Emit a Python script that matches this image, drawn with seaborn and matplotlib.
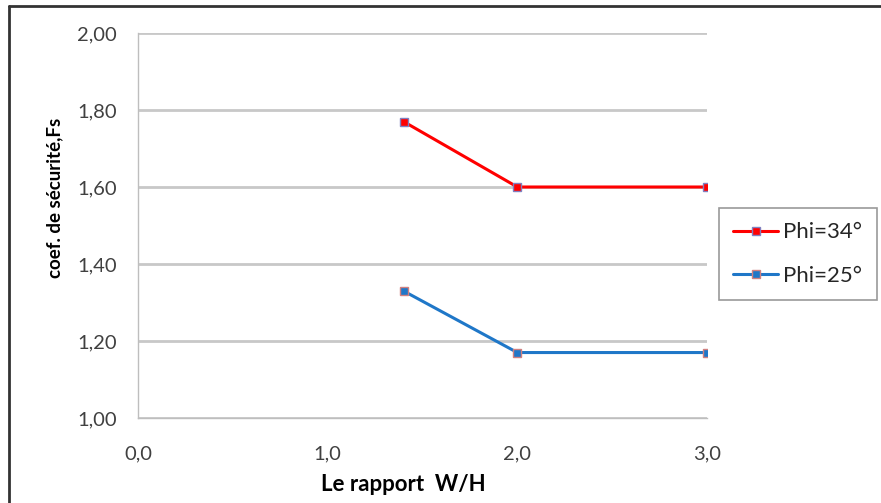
import matplotlib
matplotlib.use("Agg")
import matplotlib.pyplot as plt
import seaborn as sns
import pandas as pd
from matplotlib.lines import Line2D

sns.set_style("white")
plt.rcParams['font.family'] = ['Lato', 'DejaVu Sans']

x_vals = [1.4, 2.0, 3.0]
phi34 = [1.77, 1.60, 1.60]
phi25 = [1.33, 1.17, 1.17]
series_names = ["Phi=34°", "Phi=25°"]
x_ticks = [0.0, 1.0, 2.0, 3.0]
x_ticklabels = ["0,0", "1,0", "2,0", "3,0"]
y_ticks = [1.00, 1.20, 1.40, 1.60, 1.80, 2.00]
y_ticklabels = ["1,00", "1,20", "1,40", "1,60", "1,80", "2,00"]

df = pd.DataFrame({
    "x": x_vals * 2,
    "y": phi34 + phi25,
    "serie": [series_names[0]] * 3 + [series_names[1]] * 3,
})

fig = plt.figure(figsize=(8.81, 5.03), dpi=100)
ax = fig.add_axes([0.1566, 0.169, 0.8025 - 0.1566, 0.9344 - 0.169])

line_colors = {series_names[0]: "#FF0000", series_names[1]: "#1F77C8"}
edge_colors = {series_names[0]: "#8080C0", series_names[1]: "#D08080"}

for name in series_names:
    sub = df[df["serie"] == name]
    sns.lineplot(data=sub, x="x", y="y", ax=ax, color=line_colors[name], lw=2.2,
                 marker="s", markersize=6, markerfacecolor=line_colors[name],
                 markeredgecolor=edge_colors[name], markeredgewidth=1.0,
                 label=name, zorder=3)

ax.set_xlim(0, 3)
ax.set_ylim(1.0, 2.0)
ax.set_xticks(x_ticks)
ax.set_xticklabels(x_ticklabels)
ax.set_yticks(y_ticks)
ax.set_yticklabels(y_ticklabels)
ax.yaxis.grid(True, color="#C8C8C8", lw=2.0, zorder=0)
ax.xaxis.grid(False)
for s in ["top", "right"]:
    ax.spines[s].set_visible(False)
for s in ["left", "bottom"]:
    ax.spines[s].set_color("#BEBEBE")
    ax.spines[s].set_linewidth(1.0)
ax.tick_params(axis="both", colors="#BEBEBE", labelcolor="#404040", labelsize=14.5,
               length=5, width=1.0, direction="out")
ax.tick_params(axis="x", direction="inout", length=8, pad=16)
ax.tick_params(axis="y", pad=10)
ax.set_xlabel("Le rapport  W/H", fontsize=16, fontweight="bold", color="#000000")
ax.xaxis.set_label_coords(0.467, -0.145)
ax.set_ylabel("coef. de sécurité,Fs", fontsize=13.5, fontweight="bold", color="#000000")
ax.yaxis.set_label_coords(-0.132, 0.571)

leg = ax.legend(loc="upper left", bbox_to_anchor=(719 / 881, 1 - 208 / 503), bbox_transform=fig.transFigure,
                frameon=True, fancybox=False, fontsize=16, handlelength=2.0,
                borderpad=0.65, labelspacing=1.05, handletextpad=0.25, borderaxespad=0)
leg.get_frame().set_edgecolor("#808080")
leg.get_frame().set_linewidth(1.2)

fig.add_artist(Line2D([9 / 881, 9 / 881], [0, 1 - 6 / 503], color="#333333", lw=2.0, transform=fig.transFigure))
fig.add_artist(Line2D([9 / 881, 1], [1 - 6 / 503, 1 - 6 / 503], color="#333333", lw=2.0, transform=fig.transFigure))

fig.savefig("out.png", dpi=100)
